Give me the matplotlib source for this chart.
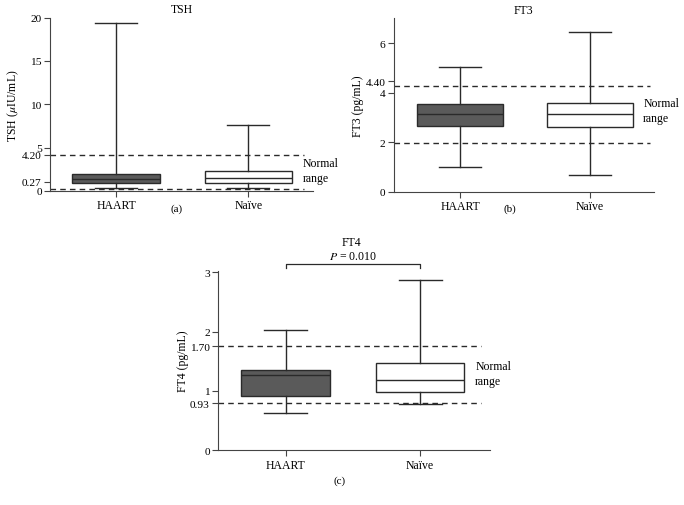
import matplotlib.pyplot as plt

plt.rcParams['font.family'] = ['Liberation Serif', 'DejaVu Serif']
plt.rcParams['mathtext.fontset'] = 'stix'

groups = ['HAART', 'Naïve']

# box stats: whislo, q1, med, q3, whishi
tsh_stats = [[0.30, 0.88, 1.35, 1.92, 19.4],
             [0.35, 0.88, 1.46, 2.30, 7.65]]
ft3_stats = [[1.01, 2.65, 3.12, 3.54, 5.05],
             [0.68, 2.62, 3.15, 3.56, 6.44]]
ft4_stats = [[0.62, 0.92, 1.26, 1.355, 2.03],
             [0.78, 0.99, 1.18, 1.47, 2.86]]

# normal range lines (as drawn) and y tick labels
tsh_range = [0.22, 4.15]
ft3_range = [1.96, 4.28]
ft4_range = [0.79, 1.755]
tsh_ticks = [0, 1.07, 4.2, 5, 10, 15, 20]
tsh_labels = ['0', '0.27', '4.20', '5', '10', '15', '20']
ft3_ticks = [0, 2, 4, 4.45, 6]
ft3_labels = ['0', '2', '4', '4.40', '6']
ft4_ticks = [0, 0.79, 1, 1.755, 2, 3]
ft4_labels = ['0', '0.93', '1', '1.70', '2', '3']

dark = '#5a5a5a'
line_c = '#2a2a2a'
fs = 8.5

fig = plt.figure(figsize=(6.84, 5.06), dpi=100)


def panel(rect, stats, rng, ticks, labels, ylim, xlim, ylabel, title, nr_y, dash_end):
    ax = fig.add_axes(rect)
    bstats = []
    for name, s in zip(groups, stats):
        bstats.append(dict(label=name, whislo=s[0], q1=s[1], med=s[2], q3=s[3], whishi=s[4], fliers=[]))
    bp = ax.bxp(bstats, positions=[1, 2], widths=0.66, capwidths=0.32, patch_artist=True,
                showfliers=False,
                boxprops=dict(edgecolor=line_c, linewidth=1.0),
                medianprops=dict(color=line_c, linewidth=1.0),
                whiskerprops=dict(color=line_c, linewidth=1.0),
                capprops=dict(color=line_c, linewidth=1.0))
    bp['boxes'][0].set_facecolor(dark)
    bp['boxes'][1].set_facecolor('white')
    for y in rng:
        ax.plot([xlim[0], dash_end], [y, y], color=line_c, linestyle=(0, (4, 3)),
                linewidth=1.0, zorder=0.5)
    ax.set_xlim(xlim)
    ax.set_ylim(ylim)
    ax.set_yticks(ticks)
    ax.set_yticklabels(labels)
    ax.set_xticks([1, 2])
    ax.set_xticklabels(groups)
    for sp in ['top', 'right']:
        ax.spines[sp].set_visible(False)
    for sp in ['left', 'bottom']:
        ax.spines[sp].set_color('#444444')
    ax.tick_params(labelsize=fs, length=4, width=0.8, color='#444444', pad=2)
    ax.tick_params(axis='y', labelsize=fs - 0.3)
    ax.set_ylabel(ylabel, fontsize=fs, labelpad=1)
    if title:
        ax.set_title(title, fontsize=fs, pad=4)
    ax.text(2.41, nr_y, 'Normal\nrange', fontsize=fs, ha='left', va='center',
            linespacing=1.35, clip_on=False)
    return ax


panel([0.0731, 0.6206, 0.3845, 0.3425], tsh_stats, tsh_range, tsh_ticks, tsh_labels,
      (0, 20), (0.5, 2.49), r'TSH ($\mu$IU/mL)', 'TSH', 2.36, 2.42)
panel([0.5756, 0.6192, 0.380, 0.3427], ft3_stats, ft3_range, ft3_ticks, ft3_labels,
      (0, 7), (0.49, 2.49), 'FT3 (pg/mL)', 'FT3', 3.29, 2.46)
ax_c = panel([0.3192, 0.1081, 0.3972, 0.3544], ft4_stats, ft4_range, ft4_ticks, ft4_labels,
             (0, 3.02), (0.5, 2.52), 'FT4 (pg/mL)', None, 1.29, 2.45)

# significance bracket in panel (c)
ax_c.plot([1, 1, 2, 2], [3.07, 3.14, 3.14, 3.07], color=line_c, linewidth=0.9, clip_on=False)
ax_c.text(1.5, 3.17, r'$P$ = 0.010', fontsize=fs, ha='center', va='bottom', clip_on=False)
fig.text(351 / 684, 1 - 243 / 506, 'FT4', fontsize=fs, ha='center', va='center')

fig.text(177 / 684, 1 - 209 / 506, '(a)', fontsize=fs - 0.5, ha='center', va='center')
fig.text(510 / 684, 1 - 209 / 506, '(b)', fontsize=fs - 0.5, ha='center', va='center')
fig.text(340 / 684, 1 - 481 / 506, '(c)', fontsize=fs - 0.5, ha='center', va='center')

fig.savefig('out.png', dpi=100)
